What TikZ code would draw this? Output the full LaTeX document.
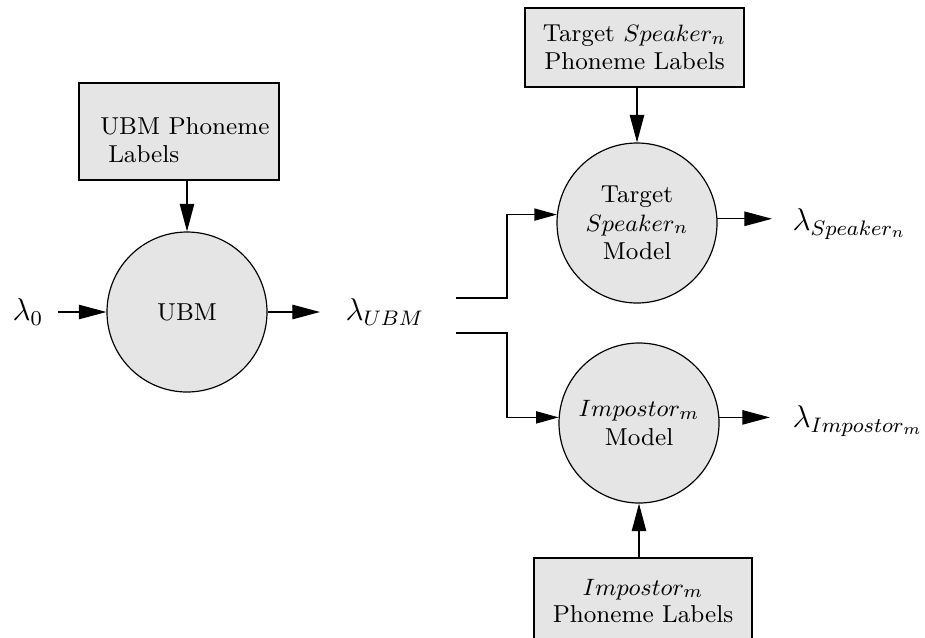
\documentclass[tikz,border=0pt]{standalone}
\usetikzlibrary{arrows.meta,calc}
\DeclareMathSizes{13}{13}{8.5}{6.5}
\begin{document}
\begin{tikzpicture}[x=0.38pt,y=-0.38pt,
  model/.style={circle, draw, line width=0.45pt, fill=gray!20, minimum size=60.8pt, inner sep=0pt, align=center, font=\fontsize{9.3}{10.8}\selectfont},
  labbox/.style={rectangle, draw, line width=0.5pt, fill=gray!20, inner sep=0pt, align=center, font=\fontsize{9.3}{10.5}\selectfont},
  lab/.style={inner sep=0pt, font=\fontsize{13}{15}\selectfont},
  arr/.style={-{Triangle[length=10.5pt,width=5.5pt]}, line width=0.45pt},
  arrs/.style={-{Triangle[length=8.5pt,width=4.6pt]}, line width=0.45pt}]
\clip (0,0) rectangle (925,637);
% models
\node[model] (U) at (187,312) {UBM};
\node[model] (T) at (637,223) {Target\\$Speaker_n$\\Model};
\node[model] (I) at (639,423) {$Impostor_m$\\Model};
% label boxes
\node[labbox, align=left, minimum width=76pt, minimum height=36.9pt] (B1) at (179,131.5) {\rule{0pt}{12.8pt}\hspace*{4.5pt}UBM Phoneme\\\hspace*{7.5pt}Labels};
\node[labbox, minimum width=83.2pt, minimum height=30pt] (B2) at (634.5,47.5) {Target $Speaker_n$\\Phoneme Labels};
\node[labbox, minimum width=82.8pt, minimum height=32.7pt] (B3) at (643,601) {$Impostor_m$\\Phoneme Labels};
% lambda labels
\node[lab, anchor=west] (l0) at (12,312) {$\lambda_0$};
\node[lab, anchor=west] (lU) at (345,312) {$\lambda_{UBM}$};
\node[lab, anchor=west] (lS) at (792,224) {$\lambda_{Speaker_n}$};
\node[lab, anchor=west] (lI) at (792,421) {$\lambda_{Impostor_m}$};
% connectors
\coordinate (s1) at (456,298);
\coordinate (s2) at (456,333);
\draw[arr, shorten <=5.3pt] (l0.east |- U) -- (U.west);
\draw[arr, shorten >=9.5pt] (U.east) -- (U -| lU.west);
\draw[arr] (B1.south -| U) -- (U.north);
\draw[arr] (B2.south -| T) -- (T.north);
\draw[arr] (B3.north -| I) -- (I.south);
\draw[arrs] (s1) -- ++(51,0) |- (T.174);
\draw[arrs] (s2) -- ++(51,0) |- (I.176);
\draw[arr, shorten >=7.6pt] (T.3) -- (T.3 -| lS.west);
\draw[arr, shorten >=8.4pt] (I.4) -- (I.4 -| lI.west);
\end{tikzpicture}
\end{document}
